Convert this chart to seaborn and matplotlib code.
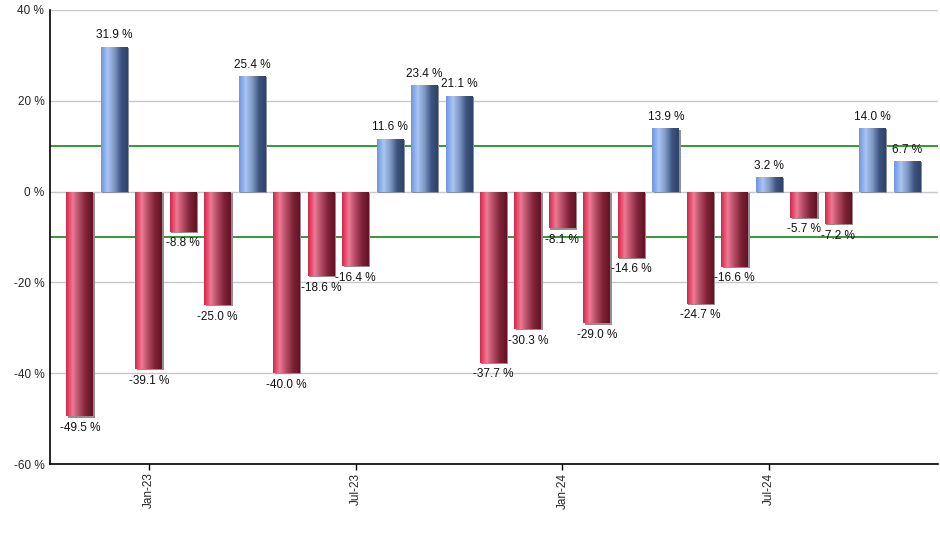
import numpy as np
import pandas as pd
import matplotlib
matplotlib.use('Agg')
import matplotlib.pyplot as plt
from matplotlib.colors import LinearSegmentedColormap
import seaborn as sns

months = ['Nov-22', 'Dec-22', 'Jan-23', 'Feb-23', 'Mar-23', 'Apr-23', 'May-23', 'Jun-23',
          'Jul-23', 'Aug-23', 'Sep-23', 'Oct-23', 'Nov-23', 'Dec-23', 'Jan-24', 'Feb-24',
          'Mar-24', 'Apr-24', 'May-24', 'Jun-24', 'Jul-24', 'Aug-24', 'Sep-24', 'Oct-24',
          'Nov-24']
returns = [-49.5, 31.9, -39.1, -8.8, -25.0, 25.4, -40.0, -18.6, -16.4, 11.6, 23.4, 21.1,
           -37.7, -30.3, -8.1, -29.0, -14.6, 13.9, -24.7, -16.6, 3.2, -5.7, -7.2, 14.0, 6.7]
shown_ticks = ['Jan-23', 'Jul-23', 'Jan-24', 'Jul-24']
ref_lines = [10, -10]

sns.set_style('white')
plt.rcParams['font.family'] = ['Liberation Sans', 'DejaVu Sans']

df = pd.DataFrame({'month': months, 'ret': returns})
df['sign'] = np.where(df['ret'] >= 0, 'up', 'down')

fig, ax = plt.subplots(figsize=(9.4, 5.5), dpi=100)
fig.subplots_adjust(left=0.053, right=0.998, top=0.982, bottom=0.156)

for y in ref_lines:
    ax.axhline(y, color='#007a00', lw=1.1, zorder=1)

sns.barplot(data=df, x='month', y='ret', hue='sign', palette={'up': '#6f9ae8', 'down': '#e0284e'},
            dodge=False, width=0.78, legend=False, ax=ax, zorder=3, order=months)

blue_cm = LinearSegmentedColormap.from_list('b', ['#6a95e6', '#a9c5f2', '#7f98c4', '#3d5480', '#2f4266'])
red_cm = LinearSegmentedColormap.from_list('r', ['#dc2048', '#ea7c94', '#b04a62', '#7e2236', '#5e1424'])
grad = np.linspace(0, 1, 256).reshape(1, -1)

ax.set_ylim(-60, 40)
ax.set_xlim(-0.87, len(months) - 0.1)

for p in ax.patches:
    h = p.get_height()
    if h == 0 and p.get_width() == 0:
        continue
    x0 = p.get_x()
    w = p.get_width()
    y0, y1 = sorted([p.get_y(), p.get_y() + h])
    cm = blue_cm if h >= 0 else red_cm
    # soft shadow on the right / bottom edge
    ax.add_patch(plt.Rectangle((x0 + 0.04, y0 - 0.25), w, y1 - y0, color='#909090', zorder=2.5, lw=0))
    p.set_facecolor('none')
    p.set_edgecolor('none')
    im = ax.imshow(grad, cmap=cm, aspect='auto', extent=(x0, x0 + w, y0, y1), zorder=3.1)
    im.set_clip_path(p)

for i, v in enumerate(returns):
    off = 1.2 if v >= 0 else -1.2
    ax.text(i, v + off, f'{v:.1f} %', ha='center', va='bottom' if v >= 0 else 'top',
            fontsize=8.5, color='#111111', zorder=5)

ax.set_yticks([-60, -40, -20, 0, 20, 40])
ax.set_yticklabels([f'{t} %' for t in [-60, -40, -20, 0, 20, 40]], fontsize=8.5)
ax.yaxis.grid(True, color='#c8c8c8', lw=1)
ax.set_axisbelow(True)

ax.set_xticks([months.index(m) for m in shown_ticks])
ax.set_xticklabels(shown_ticks, rotation=90, fontsize=8.5)
ax.tick_params(axis='x', length=4, width=1, color='black', pad=2, bottom=True)
ax.tick_params(axis='y', length=0, pad=4)

ax.set_xlabel('')
ax.set_ylabel('')
for s in ['top', 'right']:
    ax.spines[s].set_visible(False)
for s in ['left', 'bottom']:
    ax.spines[s].set_color('black')
    ax.spines[s].set_linewidth(1.2)

fig.savefig('out.png', dpi=100)
